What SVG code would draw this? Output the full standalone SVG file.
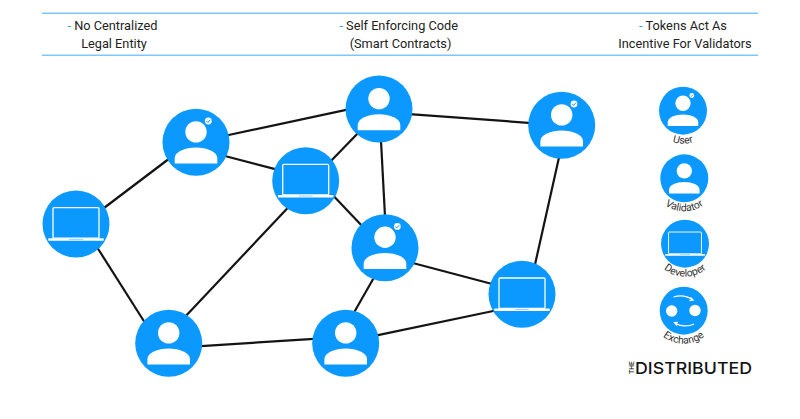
<svg xmlns="http://www.w3.org/2000/svg" width="800" height="419" viewBox="0 0 800 419">
  <style>
    .rule { stroke: #80c6fd; stroke-width: 1.4; fill: none; }
    .head { font: 400 12.75px Roboto, "Liberation Sans", sans-serif; fill: #222; text-anchor: middle; }
    .dash { fill: #2a9dfb; }
    .edge { stroke: #141414; stroke-width: 2.2; fill: none; }
    .disc { fill: #0c99ff; }
    .ink { fill: #fff; }
    .line { fill: none; stroke: #fff; stroke-width: 1.3; }
    .tag { font: 400 10.4px Roboto, "Liberation Sans", sans-serif; fill: #333; text-anchor: middle; }
    .logo { font: 500 16.5px Inter, "Liberation Sans", sans-serif; fill: #141414; }
    .logo-small { font: 600 6px Inter, "Liberation Sans", sans-serif; fill: #141414; }
  </style>
  <defs>
    <g id="person">
      <circle class="disc" r="33.5"/>
      <circle class="ink" cy="-10.4" r="10.7"/>
      <path class="ink" d="M-21.3 21.3V16C-21.3 9.500-11 5.300 0 5.300S21.300 9.500 21.300 16V21.300Z"/>
    </g>
    <g id="check">
      <circle class="ink" cx="12.3" cy="-21.3" r="3.4"/>
      <path d="M10.600-21.200l1.300 1.300 2.300-2.600" fill="none" stroke="#0c99ff" stroke-width="1"/>
    </g>
    <g id="laptop">
      <circle class="disc" r="33.5"/>
      <rect class="line" x="-23" y="-16.300" width="46" height="30.400" rx="1"/>
      <rect class="ink" x="-27.800" y="14.300" width="55.600" height="2.500" rx="0.800"/>
      <rect x="-7" y="14.900" width="14" height="0.900" fill="#8ccbff"/>
    </g>
    <path id="arc-user" d="M650 110.700A33 33 0 0 0 716 110.700"/>
    <path id="arc-validator" d="M651.300 178.300A33 33 0 0 0 717.300 178.300"/>
    <path id="arc-developer" d="M652 243.700A33 33 0 0 0 718 243.700"/>
    <path id="arc-exchange" d="M650.700 310.700A33 33 0 0 0 716.700 310.700"/>
  </defs>

  <g id="header">
    <path class="rule" d="M42 13.200H758M42 55.300H758"/>
    <text class="head" x="112.500" y="30"><tspan class="dash">-</tspan> No Centralized</text>
    <text class="head" x="114" y="48">Legal Entity</text>
    <text class="head" x="398.700" y="30"><tspan class="dash">-</tspan> Self Enforcing Code</text>
    <text class="head" x="400.500" y="48">(Smart Contracts)</text>
    <text class="head" x="683" y="30"><tspan class="dash">-</tspan> Tokens Act As</text>
    <text class="head" x="685" y="48">Incentive For Validators</text>
  </g>

  <g id="connectors">
    <path class="edge" d="M100 211L172 156.500"/>
    <path class="edge" d="M224 136L352 108.700"/>
    <path class="edge" d="M222 155.300L280 170.400"/>
    <path class="edge" d="M328 164L361 130"/>
    <path class="edge" d="M331 193.300L364 228"/>
    <path class="edge" d="M290 205.500L183 319"/>
    <path class="edge" d="M380.800 137L385.200 220"/>
    <path class="edge" d="M406 113.800L535 123.300"/>
    <path class="edge" d="M560 153L534 269"/>
    <path class="edge" d="M409 262L496 285"/>
    <path class="edge" d="M376 274L352 316"/>
    <path class="edge" d="M372 336.300L498 310"/>
    <path class="edge" d="M197 346.300L318 338.700"/>
    <path class="edge" d="M95 244L147 326"/>
  </g>

  <g id="node-user-a" transform="translate(196 142.300)"><use href="#person"/><use href="#check"/></g>
  <g id="node-validator-top" transform="translate(379 109)"><use href="#person"/></g>
  <g id="node-user-right" transform="translate(561.700 125.300)"><use href="#person"/><use href="#check"/></g>
  <g id="node-user-mid" transform="translate(385 247.700)"><use href="#person"/><use href="#check"/></g>
  <g id="node-validator-b1" transform="translate(168.700 343.300)"><use href="#person"/></g>
  <g id="node-validator-b2" transform="translate(345.700 343.300)"><use href="#person"/></g>
  <g id="node-dev-left" transform="translate(76 224)"><use href="#laptop"/></g>
  <g id="node-dev-mid" transform="translate(305.700 180.700)"><use href="#laptop"/></g>
  <g id="node-dev-right" transform="translate(522 294.300)"><use href="#laptop"/></g>

  <g id="legend-user">
    <g transform="translate(683 110.700) scale(0.716)"><use href="#person"/><use href="#check"/></g>
    <text class="tag"><textPath href="#arc-user" startOffset="50%">User</textPath></text>
  </g>
  <g id="legend-validator">
    <g transform="translate(684.300 178.300) scale(0.716)"><use href="#person"/></g>
    <text class="tag"><textPath href="#arc-validator" startOffset="50%">Validator</textPath></text>
  </g>
  <g id="legend-developer">
    <g transform="translate(685 243.700) scale(0.716)"><use href="#laptop"/></g>
    <text class="tag"><textPath href="#arc-developer" startOffset="50%">Developer</textPath></text>
  </g>
  <g id="legend-exchange">
    <circle class="disc" cx="683.700" cy="310.700" r="24"/>
    <circle class="ink" cx="671.700" cy="311" r="5.700"/>
    <circle class="ink" cx="695" cy="310.500" r="5.700"/>
    <path class="line" d="M673.500 297C680 295 687 296 692.500 299.500"/>
    <path class="line" d="M690.500 297.500L693 300L689.500 300.500"/>
    <path class="line" d="M694 324C688 327 680 326.500 675 323"/>
    <path class="line" d="M677 325.500L674.500 322.500L678 322.300"/>
    <text class="tag"><textPath href="#arc-exchange" startOffset="50%">Exchange</textPath></text>
  </g>

  <g id="brand">
    <text class="logo-small" transform="translate(633.800 374) rotate(-90)" textLength="13" lengthAdjust="spacingAndGlyphs">THE</text>
    <text class="logo" x="635" y="373.800" textLength="117" lengthAdjust="spacingAndGlyphs">DISTRIBUTED</text>
  </g>
</svg>
